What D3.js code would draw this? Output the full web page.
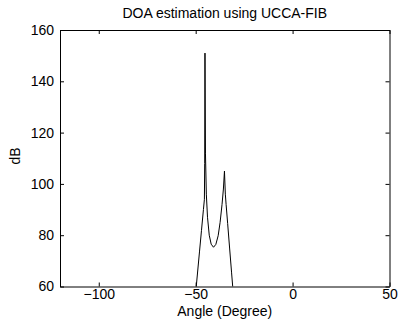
<!DOCTYPE html>
<html><head><meta charset="utf-8">
<script src="https://cdn.jsdelivr.net/npm/d3@7"></script>
<style>body{margin:0;background:#fff}svg{display:block}text{font-family:"Liberation Sans",Arial,sans-serif;fill:#000}</style>
</head><body><div id="chart"></div>
<script>
const angles = [-51, -49.7, -48, -47, -46, -45.5, -45.35, -45.2, -44.95, -44.5, -43.9, -43.0, -42.0, -40.8, -39.6, -38.4, -37.4, -36.4, -35.7, -35.15, -34.7, -34.3, -33.5, -32.5, -31.5, -30.9, -30];
const dB =     [45, 60, 73.8, 81.9, 90, 94, 108, 151, 112, 96, 87, 80, 76.5, 75.3, 76.4, 79.8, 85, 92, 98, 105, 96, 92, 84.5, 75, 65.6, 60, 51];
const xTicks = [-100, -50, 0, 50];
const yTicks = [60, 80, 100, 120, 140, 160];
const title = "DOA estimation using UCCA-FIB";
const xLabel = "Angle (Degree)";
const yLabel = "dB";

const W = 399, H = 322;
const m = {left: 60, right: 9.5, top: 30, bottom: 35.5};
const svg = d3.select("#chart").append("svg").attr("width", W).attr("height", H);
const x = d3.scaleLinear().domain([-120, 50]).range([m.left, W - m.right]);
const y = d3.scaleLinear().domain([60, 160]).range([H - m.bottom, m.top]);

svg.append("defs").append("clipPath").attr("id", "clip")
  .append("rect").attr("x", x(-120)).attr("y", y(160)).attr("width", x(50) - x(-120)).attr("height", y(60) - y(160));

const data = angles.map((a, i) => [a, dB[i]]);
svg.append("path").datum(data).attr("clip-path", "url(#clip)")
  .attr("fill", "none").attr("stroke", "#000").attr("stroke-width", 1)
  .attr("d", d3.line().x(d => x(d[0])).y(d => y(d[1])));

const tl = 4;
const fs = "14px";
const gb = svg.append("g").attr("transform", `translate(0,${y(60)})`)
  .call(d3.axisBottom(x).tickValues(xTicks).tickSizeInner(-tl).tickSizeOuter(0).tickPadding(3));
const gt = svg.append("g").attr("transform", `translate(0,${y(160)})`)
  .call(d3.axisTop(x).tickValues(xTicks).tickSizeInner(-tl).tickSizeOuter(0).tickFormat(""));
const gl = svg.append("g").attr("transform", `translate(${x(-120)},0)`)
  .call(d3.axisLeft(y).tickValues(yTicks).tickSizeInner(-tl).tickSizeOuter(0).tickPadding(6));
const gr = svg.append("g").attr("transform", `translate(${x(50)},0)`)
  .call(d3.axisRight(y).tickValues(yTicks).tickSizeInner(-tl).tickSizeOuter(0).tickFormat(""));
[gb, gt, gl, gr].forEach(g => {
  g.selectAll("path.domain").attr("stroke", "#000").attr("stroke-width", 1);
  g.selectAll("line").attr("stroke", "#000");
  g.selectAll("text").style("font-family", '"Liberation Sans",Arial,sans-serif').style("font-size", fs).attr("fill", "#000");
});

svg.append("text").attr("x", (x(-120) + x(50)) / 2).attr("y", 17.5).attr("text-anchor", "middle")
  .style("font-size", fs).text(title);
svg.append("text").attr("x", (x(-120) + x(50)) / 2).attr("y", 316).attr("text-anchor", "middle")
  .style("font-size", fs).text(xLabel);
svg.append("text").attr("transform", `translate(20,156) rotate(-90)`).attr("text-anchor", "middle")
  .style("font-size", fs).text(yLabel);
</script></body></html>
